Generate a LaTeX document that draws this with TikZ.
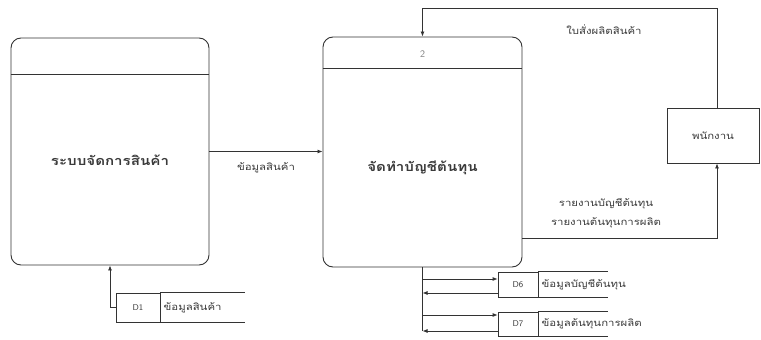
\documentclass[tikz,border=0pt]{standalone}
\usepackage{fontspec}
\newfontfamily\thai[Script=Thai,FakeStretch=1.2]{Loma}
\usetikzlibrary{arrows.meta,calc}
\definecolor{ln}{HTML}{333333}
\definecolor{tx}{HTML}{3A3A3A}
\tikzset{
  proc/.style={draw=ln, line width=0.9pt, rounded corners=10pt, inner sep=0pt},
  ent/.style={draw=ln, line width=0.9pt, inner sep=0pt},
  lbl/.style={text=tx, font=\thai\fontsize{9.5}{11}\selectfont, inner sep=1pt},
  big/.style={text=tx, font=\thai\bfseries\fontsize{12.6}{14}\selectfont},
  arr/.style={draw=ln, line width=0.8pt, -{Latex[length=5pt,width=4pt]}},
  plain/.style={draw=ln, line width=0.8pt},
  sid/.style={draw=ln, line width=0.8pt, inner sep=0pt, text=tx, font=\sffamily\fontsize{8.5}{9}\selectfont}
}
\begin{document}
\begin{tikzpicture}[x=1pt,y=-1pt]
\useasboundingbox[fill=white] (0,0) rectangle (761,340);
% process 1
\node[proc, minimum width=198pt, minimum height=227pt] (p1) at (110,151.5) {};
\draw[plain] ($(p1.north west)+(0,37)$) -- ($(p1.north east)+(0,37)$);
\node[big] (p1t) at (110,160) {ระบบจัดการสินค้า};
% process 2
\node[proc, minimum width=199pt, minimum height=230pt] (p2) at (422.5,152) {};
\draw[plain] ($(p2.north west)+(0,32)$) -- ($(p2.north east)+(0,32)$);
\node[text=gray, font=\sffamily\fontsize{10}{12}\selectfont] (p2n) at (422.5,54) {2};
\node[big] (p2t) at (422.5,168) {จัดทำบัญชีต้นทุน};
% entity
\node[ent, minimum width=92pt, minimum height=55pt] (emp) at (713,135.5) {};
\node[lbl] (empt) at (713,135.5) {พนักงาน};
% flows
\draw[arr] (p1.east) -- (p1.east -| p2.west);
\node[lbl] (f1) at (266,168) {ข้อมูลสินค้า};
\draw[arr] ([xshift=4pt]emp.north) -- ++(0,-99) -| (p2.north);
\node[lbl] (f2) at (604,30) {ใบสั่งผลิตสินค้า};
\draw[arr] ([yshift=-86pt]p2.east) -| ([xshift=4pt]emp.south);
\node[lbl] (f3) at (606,204) {รายงานบัญชีต้นทุน};
\node[lbl] (f4) at (606,223) {รายงานต้นทุนการผลิต};
% D1
\node[sid, minimum width=44pt, minimum height=29pt] (d1) at (138,307.5) {D1};
\draw[plain] (d1.north east) -- ++(85,0);
\draw[plain] (d1.south east) -- ++(85,0);
\node[lbl, anchor=west] (d1t) at ($(d1.east)+(2,0)$) {ข้อมูลสินค้า};
\draw[arr] (d1.west) -| (p1.south);
% D6
\node[sid, minimum width=40pt, minimum height=25pt] (d6) at (518,284.5) {D6};
\draw[plain] (d6.north east) -- ++(70,0);
\draw[plain] (d6.south east) -- ++(70,0);
\node[lbl, anchor=west] (d6t) at ($(d6.east)+(2,0)$) {ข้อมูลบัญชีต้นทุน};
% D7
\node[sid, minimum width=40pt, minimum height=24pt] (d7) at (518,324) {D7};
\draw[plain] (d7.north east) -- ++(70,0);
\draw[plain] (d7.south east) -- ++(70,0);
\node[lbl, anchor=west] (d7t) at ($(d7.east)+(2,0)$) {ข้อมูลต้นทุนการผลิต};
% trunk
\coordinate (tb) at (p2.south |- 0,331);
\draw[plain] (p2.south) -- (tb);
\draw[arr] ([yshift=5.5pt]d6.west -| p2.south) -- ([yshift=5.5pt]d6.west);
\draw[arr] ([yshift=-8.5pt]d6.west) -- ([yshift=-8.5pt]d6.west -| p2.south);
\draw[arr] ([yshift=9pt]d7.west -| p2.south) -- ([yshift=9pt]d7.west);
\draw[arr] ([yshift=-7pt]d7.west) -- (tb);
\end{tikzpicture}
\end{document}
